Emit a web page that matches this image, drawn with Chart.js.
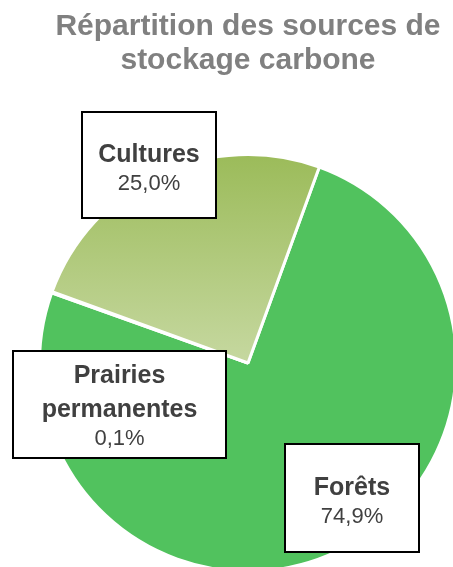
<!DOCTYPE html>
<html lang="fr">
<head>
<meta charset="utf-8">
<script src="https://cdn.jsdelivr.net/npm/chart.js@4"></script>
<style>
  html, body { margin: 0; padding: 0; background: #fff; overflow: hidden; }
  #wrap { position: relative; width: 494px; height: 590px; }
</style>
</head>
<body>
<div id="wrap"><canvas id="myChart"></canvas></div>
<script>
const categories = ['Forêts', 'Prairies permanentes', 'Cultures'];
const shares = [74.9, 0.1, 25.0];
const titleLines = ['Répartition des sources de', 'stockage carbone'];

// label boxes in canvas pixels, same order as categories
const boxes = [
  { x: 285, y: 444, w: 134, h: 108 },
  { x: 13, y: 351, w: 213, h: 107 },
  { x: 82, y: 112, w: 134, h: 106 }
];

const FONT = '"Liberation Sans", Arial, sans-serif';
const sliceColors = ['#51c25e', '#77933c', null];
const pct = v => v.toFixed(1).replace('.', ',') + '%';

// cultures slice fades from olive at the top to a pale green at the centre
function sliceFill(c) {
  if (sliceColors[c.dataIndex]) return sliceColors[c.dataIndex];
  const a = c.chart.chartArea;
  if (!a) return '#b1c97c';
  const g = c.chart.ctx.createLinearGradient(0, a.top, 0, (a.top + a.bottom) / 2);
  g.addColorStop(0, '#9bbb59');
  g.addColorStop(1, '#c6d8a0');
  return g;
}

const boxLabels = {
  id: 'boxLabels',
  afterDatasetsDraw(chart) {
    const ctx = chart.ctx;
    const values = chart.data.datasets[0].data;
    ctx.save();
    chart.data.labels.forEach((name, i) => {
      const b = boxes[i];
      ctx.fillStyle = '#fff';
      ctx.fillRect(b.x, b.y, b.w, b.h);
      ctx.lineWidth = 2;
      ctx.strokeStyle = '#000';
      ctx.strokeRect(b.x, b.y, b.w, b.h);

      ctx.font = 'bold 25px ' + FONT;
      // wrap the name on spaces when it is wider than the box
      const lines = [];
      let cur = '';
      name.split(' ').forEach(w => {
        const t = cur ? cur + ' ' + w : w;
        if (cur && ctx.measureText(t).width > b.w - 16) { lines.push(cur); cur = w; }
        else cur = t;
      });
      lines.push(cur);

      const cx = b.x + b.w / 2;
      let y = b.y + b.h / 2 - 3 - (lines.length - 1) * 18.5;
      ctx.textAlign = 'center';
      ctx.textBaseline = 'alphabetic';
      ctx.fillStyle = '#404040';
      lines.forEach((l, k) => {
        ctx.fillText(l, cx, y);
        if (k < lines.length - 1) y += 34;
      });
      ctx.font = '22px ' + FONT;
      ctx.fillText(pct(values[i]), cx, y + 28);
    });
    ctx.restore();
  }
};

new Chart(document.getElementById('myChart'), {
  type: 'pie',
  data: {
    labels: categories,
    datasets: [{
      data: shares,
      backgroundColor: sliceFill,
      borderColor: '#fff',
      borderWidth: 3,
      hoverOffset: 0
    }]
  },
  options: {
    responsive: true,
    maintainAspectRatio: false,
    animation: false,
    rotation: 20,
    layout: { padding: { left: 38, right: 36, top: 0, bottom: 17 } },
    plugins: {
      legend: { display: false },
      tooltip: { enabled: false },
      title: {
        display: true,
        text: titleLines,
        color: '#808080',
        font: { family: FONT, size: 30, weight: 'bold', lineHeight: 1.15 },
        padding: { top: 9, bottom: 75 }
      }
    }
  },
  plugins: [boxLabels]
});
</script>
</body>
</html>
